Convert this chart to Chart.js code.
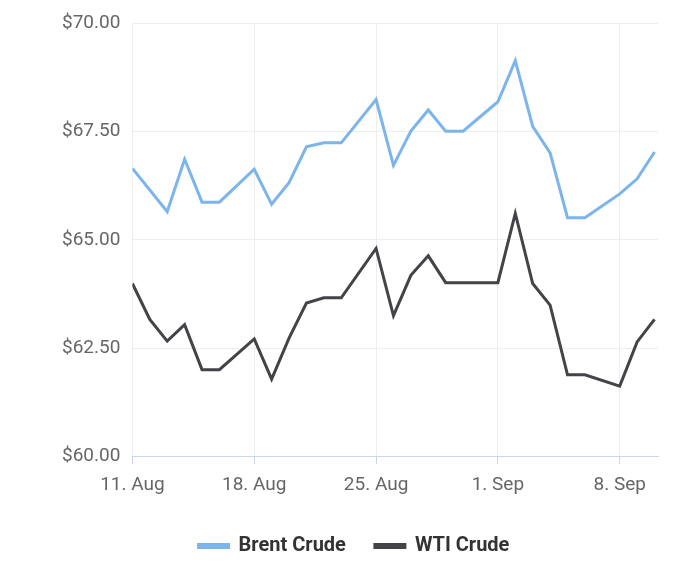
<!DOCTYPE html>
<html><head><meta charset="utf-8">
<script src="https://cdn.jsdelivr.net/npm/chart.js@4"></script>
<style>html,body{margin:0;background:#fff}#w{width:700px;height:569px}</style>
</head><body><div id="w"><canvas id="c"></canvas></div>
<script>
const dayOffsets=[0,1,2,3,4,5,7,8,9,10,11,12,14,15,16,17,18,19,21,22,23,24,25,26,28,29,30];
const brent=[66.65,66.15,65.65,66.86,65.87,65.87,66.63,65.82,66.32,67.15,67.24,67.24,68.24,66.72,67.51,68.0,67.51,67.51,68.19,69.14,67.62,67.01,65.51,65.51,66.06,66.41,67.03];
const wti=[63.99,63.16,62.66,63.04,62.0,62.0,62.71,61.78,62.73,63.54,63.66,63.66,64.80,63.25,64.18,64.63,64.01,64.01,64.01,65.61,63.99,63.49,61.88,61.88,61.62,62.64,63.16];
const tickDays=[0,7,14,21,28];
const tickLabels=["11. Aug","18. Aug","25. Aug","1. Sep","8. Sep"];
Chart.defaults.font.family="Roboto";
const mk=(arr)=>arr.map((v,i)=>({x:dayOffsets[i],y:v}));
new Chart(document.getElementById('c'),{type:'line',
data:{datasets:[
{label:'Brent Crude',data:mk(brent),borderColor:'#7cb5ec',backgroundColor:'#7cb5ec',borderWidth:3,pointRadius:0,tension:0},
{label:'WTI Crude',data:mk(wti),borderColor:'#434348',backgroundColor:'#434348',borderWidth:3,pointRadius:0,tension:0}]},
options:{responsive:true,maintainAspectRatio:false,animation:false,
layout:{padding:{left:50,right:42,top:19,bottom:3}},
plugins:{tooltip:{enabled:false},legend:{position:'bottom',labels:{boxWidth:30,boxHeight:3,color:'#333',font:{size:20,weight:'bold'},padding:29}}},
scales:{
x:{type:'linear',min:0,max:30.2,
afterBuildTicks:(s)=>{s.ticks=tickDays.map(v=>({value:v}));},
ticks:{color:'#666',font:{size:19},padding:10,maxRotation:0,callback:(v)=>{const i=tickDays.indexOf(v);return i<0?'':tickLabels[i];}},
grid:{color:'#eeeeee',drawTicks:true,tickLength:8,tickColor:'#ccd6eb'},border:{color:'#ccd6eb',width:1}},
y:{min:60,max:70,
afterBuildTicks:(s)=>{s.ticks=[60,62.5,65,67.5,70].map(v=>({value:v}));},
ticks:{color:'#666',font:{size:19},padding:12,callback:(v)=>'$'+v.toFixed(2)},
grid:{color:'#eeeeee',drawTicks:false},border:{display:false}}}}});
</script></body></html>
